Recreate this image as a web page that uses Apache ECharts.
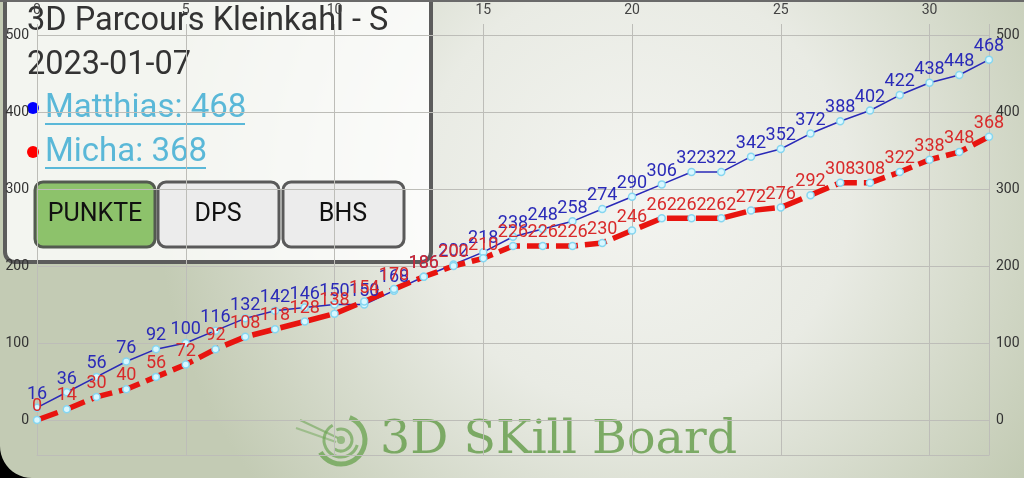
<!DOCTYPE html>
<html><head><meta charset="utf-8">
<script src="https://cdn.jsdelivr.net/npm/echarts@6/dist/echarts.min.js"></script>
<style>html,body{margin:0;padding:0;background:#000}#c{width:1024px;height:478px}</style>
</head><body><div id="c"></div>
<script>
const holes = [0,1,2,3,4,5,6,7,8,9,10,11,12,13,14,15,16,17,18,19,20,21,22,23,24,25,26,27,28,29,30,31,32];
const matthias = [16,36,56,76,92,100,116,132,142,146,150,150,168,186,202,218,238,248,258,274,290,306,322,322,342,352,372,388,402,422,438,448,468];
const micha = [0,14,30,40,56,72,92,108,118,128,138,154,170,186,200,210,226,226,226,230,246,262,262,262,272,276,292,308,308,322,338,348,368];
const yTicks = [0,100,200,300,400,500];
const title = '3D Parcours Kleinkahl - S';
const dateText = '2023-01-07';
const legendNames = ['Matthias', 'Micha'];

const chart = echarts.init(document.getElementById('c'));
const FONT = 'Roboto';
const pts = a => holes.map((h,i)=>[h,a[i]]);
const marker = {color:'#d9f7ff', borderColor:'#86d6f0', borderWidth:1.5};

const cornerPts = [[0,478]];
for (let k=0;k<=12;k++){ const t = Math.PI/2*k/12; cornerPts.push([32-32*Math.cos(t), 446+32*Math.sin(t)]); }
cornerPts.push([0,478]);

chart.setOption({
  animation:false,
  backgroundColor:{type:'radial', x:0.62, y:0.4, r:1.0, colorStops:[
    {offset:0,color:'#f3f4f0'},{offset:0.45,color:'#e9ebe4'},{offset:1,color:'#c3cbb4'}]},
  grid:[
    {left:37, right:35, top:24, bottom:23},
    {left:37, right:35, top:35, bottom:58}
  ],
  xAxis:[
    {gridIndex:0, type:'value', min:0, max:32, interval:5, position:'top',
     axisLine:{show:true, lineStyle:{color:'#bdbdb8', width:1}}, axisTick:{show:false},
     axisLabel:{margin:7, color:'#444', fontFamily:FONT, fontSize:14,
       formatter:v => (v%5===0 ? String(v) : '')},
     splitLine:{show:true, lineStyle:{color:'#bdbdb8', width:1}}},
    {gridIndex:1, type:'value', min:0, max:32, show:false}
  ],
  yAxis:[
    {gridIndex:0, type:'value', min:0, max:1, show:false},
    {gridIndex:1, type:'value', min:yTicks[0], max:yTicks[yTicks.length-1], interval:100, position:'left',
     axisLine:{show:false}, axisTick:{show:false},
     axisLabel:{margin:8, color:'#333', fontFamily:FONT, fontSize:14},
     splitLine:{show:true, lineStyle:{color:'#bdbdb8', width:1}}},
    {gridIndex:1, type:'value', min:yTicks[0], max:yTicks[yTicks.length-1], interval:100, position:'right',
     axisLine:{show:false}, axisTick:{show:false},
     axisLabel:{margin:7, color:'#333', fontFamily:FONT, fontSize:14},
     splitLine:{show:false}}
  ],
  series:[
    {name:legendNames[0], type:'line', xAxisIndex:1, yAxisIndex:1, data:pts(matthias),
     symbol:'circle', symbolSize:7, itemStyle:marker,
     lineStyle:{color:'#2a2ab8', width:1.5},
     label:{show:true, position:'top', distance:0, color:'#2a2ab8', fontFamily:FONT, fontSize:18}},
    {name:legendNames[1], type:'line', xAxisIndex:1, yAxisIndex:1, data:pts(micha),
     symbol:'circle', symbolSize:7, itemStyle:marker,
     lineStyle:{color:'#e8140f', width:5.5, type:[22,7]},
     label:{show:true, position:'top', distance:0, color:'#d92a2a', fontFamily:FONT, fontSize:18}}
  ],
  graphic:[
    {type:'group', z:0, silent:true, children:[
      {type:'arc', shape:{cx:341, cy:440, r:24, startAngle:-1.2, endAngle:2.6}, style:{stroke:'rgba(110,165,85,0.8)', lineWidth:5, fill:null}},
      {type:'arc', shape:{cx:341, cy:440, r:17, startAngle:0.3, endAngle:4.2}, style:{stroke:'rgba(110,165,85,0.7)', lineWidth:3, fill:null}},
      {type:'arc', shape:{cx:341, cy:440, r:11, startAngle:-2, endAngle:2.2}, style:{stroke:'rgba(110,165,85,0.7)', lineWidth:3, fill:null}},
      {type:'circle', shape:{cx:341, cy:440, r:4}, style:{fill:'rgba(110,165,85,0.6)'}},
      {type:'line', shape:{x1:300, y1:420, x2:338, y2:438}, style:{stroke:'rgba(110,165,85,0.6)', lineWidth:2}},
      {type:'line', shape:{x1:296, y1:428, x2:336, y2:442}, style:{stroke:'rgba(110,165,85,0.5)', lineWidth:2}},
      {type:'text', x:380, y:441, style:{text:'3D SKill Board', font:'47.5px "DejaVu Serif"', fill:'rgba(112,163,88,0.9)', textVerticalAlign:'middle'}}
    ]},
    {type:'rect', z:200, silent:true, shape:{x:0, y:0, width:1024, height:2}, style:{fill:'#6a6a6a'}},
    {type:'polygon', z:200, silent:true, shape:{points:cornerPts}, style:{fill:'#000'}},
    {type:'group', z:100, children:[
      {type:'rect', shape:{x:5, y:-12, width:426, height:274, r:[0,0,10,10]}, style:{fill:'rgba(255,255,255,0.8)', stroke:'#5c5c5c', lineWidth:4}},
      {type:'text', x:27, y:22, style:{text:title, font:'32.5px Roboto', fill:'#333', textVerticalAlign:'middle'}},
      {type:'text', x:27, y:66, style:{text:dateText, font:'32.5px Roboto', fill:'#333', textVerticalAlign:'middle'}},
      {type:'circle', shape:{cx:33, cy:108, r:6}, style:{fill:'#0000ff'}},
      {type:'text', x:45, y:109, style:{text:legendNames[0]+': '+matthias[matthias.length-1], font:'33px Roboto', fill:'#5ab8d8', textVerticalAlign:'middle'}},
      {type:'rect', shape:{x:45, y:123, width:200, height:2}, style:{fill:'#5ab8d8'}},
      {type:'circle', shape:{cx:33, cy:152, r:6}, style:{fill:'#ff0000'}},
      {type:'text', x:45, y:153, style:{text:legendNames[1]+': '+micha[micha.length-1], font:'33px Roboto', fill:'#5ab8d8', textVerticalAlign:'middle'}},
      {type:'rect', shape:{x:45, y:167, width:161, height:2}, style:{fill:'#5ab8d8'}},
      {type:'rect', shape:{x:35, y:182, width:120, height:65, r:8}, style:{fill:'#8dc26b', stroke:'#535a50', lineWidth:3}},
      {type:'text', x:95, y:215, style:{text:'PUNKTE', font:'25px Roboto', fill:'#111', textAlign:'center', textVerticalAlign:'middle'}},
      {type:'rect', shape:{x:158, y:182, width:121, height:65, r:8}, style:{fill:'#ececec', stroke:'#5a5a5a', lineWidth:3}},
      {type:'text', x:218, y:215, style:{text:'DPS', font:'25px Roboto', fill:'#111', textAlign:'center', textVerticalAlign:'middle'}},
      {type:'rect', shape:{x:283, y:182, width:121, height:65, r:8}, style:{fill:'#ececec', stroke:'#5a5a5a', lineWidth:3}},
      {type:'text', x:343, y:215, style:{text:'BHS', font:'25px Roboto', fill:'#111', textAlign:'center', textVerticalAlign:'middle'}}
    ]}
  ]
});
</script></body></html>
